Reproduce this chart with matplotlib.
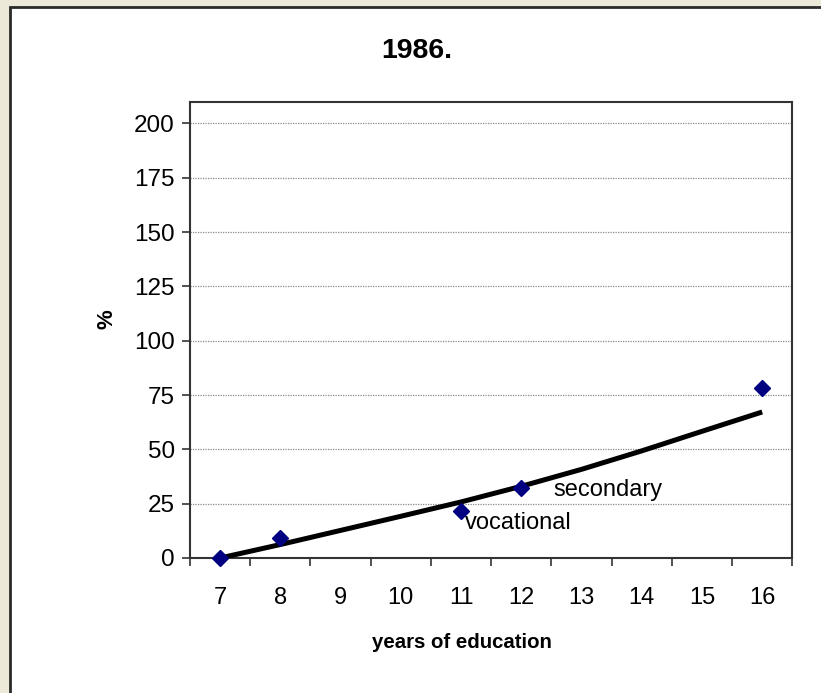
import matplotlib
matplotlib.use("Agg")
import matplotlib.pyplot as plt
from matplotlib.patches import Rectangle
import numpy as np

plt.rcParams['font.family'] = ['Liberation Sans', 'DejaVu Sans']

categories = ["7", "8", "9", "10", "11", "12", "13", "14", "15", "16"]
point_cats = ["7", "8", "11", "12", "16"]
point_vals = [0, 9.2, 21.6, 32.2, 78.4]
trend_vals = [0, 6.2, 12.7, 19.2, 25.8, 33.0, 40.8, 49.3, 58.3, 67.2]
y_ticks = [0, 25, 50, 75, 100, 125, 150, 175, 200]

fig = plt.figure(figsize=(8.21, 6.93), dpi=100)
fig.patch.set_facecolor('#ECE9D8')
panel = Rectangle((10/821, -0.05), 1.0, (693-7)/693 + 0.05, transform=fig.transFigure,
                  facecolor='white', edgecolor='#2a2a2a', linewidth=2.0, zorder=-10)
fig.add_artist(panel)

ax = fig.add_axes([190/821, 1-558/693, (792.3-190)/821, (558-101.7)/693])
ax.set_zorder(1)
ax.set_facecolor('white')

xpos = {c: i for i, c in enumerate(categories)}
ax.plot([xpos[c] for c in categories], trend_vals, color='black', linewidth=3.6,
        solid_capstyle='butt', zorder=3)
ax.plot([xpos[c] for c in point_cats], point_vals, linestyle='none', marker='D',
        markersize=7.8, color='#000080', zorder=4, clip_on=False)

ax.text(4.07, 16, "vocational", fontsize=17, va='center', ha='left')
ax.text(5.53, 31.2, "secondary", fontsize=17, va='center', ha='left')

ax.set_xlim(-0.5, len(categories) - 0.5)
ax.set_ylim(0, 210)
ax.set_xticks(range(len(categories)))
ax.set_xticklabels(categories, fontsize=17)
ax.set_xticks(np.arange(-0.5, len(categories)), minor=True)
ax.tick_params(axis='x', which='major', length=0, pad=21)
ax.tick_params(axis='x', which='minor', length=6, width=1.2, direction='out', color='#333333')
ax.set_yticks(y_ticks)
ax.set_yticklabels([str(v) for v in y_ticks], fontsize=17.5)
ax.tick_params(axis='y', length=6, width=1.2, direction='out', color='#333333', pad=5)

ax.grid(axis='y', color='#888888', linestyle=(0, (1, 1)), linewidth=0.9)
ax.set_axisbelow(True)
for s in ax.spines.values():
    s.set_color('#333333')
    s.set_linewidth(1.5)

fig.text(462/821, 1-643/693, "years of education", fontsize=14.7, fontweight='bold',
         ha='center', va='center')
fig.text(107/821, 1-319/693, "%", fontsize=16, fontweight='bold', rotation=90,
         ha='center', va='center')
fig.text(417/821, 1-51.5/693, "1986.", fontsize=20.5, fontweight='bold',
         ha='center', va='center')

fig.savefig("out.png", dpi=100, facecolor=fig.get_facecolor())
